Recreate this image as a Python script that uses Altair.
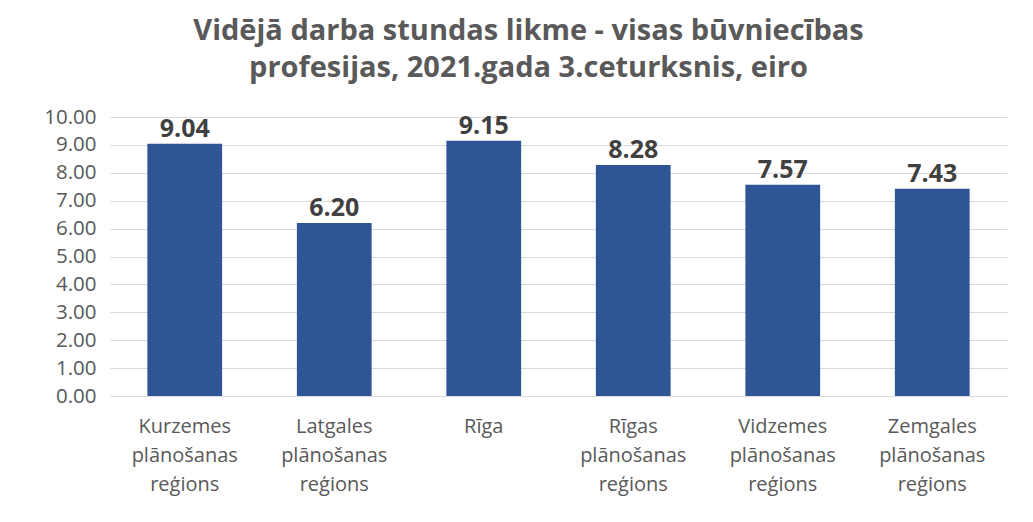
import altair as alt
import pandas as pd

categories = [
    "Kurzemes|plānošanas|reģions",
    "Latgales|plānošanas|reģions",
    "Rīga",
    "Rīgas|plānošanas|reģions",
    "Vidzemes|plānošanas|reģions",
    "Zemgales|plānošanas|reģions",
]
values = [9.04, 6.20, 9.15, 8.28, 7.57, 7.43]
y_ticks = [0, 1, 2, 3, 4, 5, 6, 7, 8, 9, 10]

df = pd.DataFrame({"region": categories, "value": values})

GREY = "#595959"
x = alt.X(
    "region:N",
    sort=None,
    title=None,
    scale=alt.Scale(paddingInner=0.5, paddingOuter=0.25),
    axis=alt.Axis(
        labelAngle=0,
        labelExpr="split(datum.value, '|')",
        labelFont="Open Sans",
        labelFontSize=20,
        labelLineHeight=29,
        labelColor=GREY,
        labelPadding=20,
        labelBaseline="top",
        domain=False,
        ticks=False,
    ),
)
y = alt.Y(
    "value:Q",
    title=None,
    scale=alt.Scale(domain=[0, 10], nice=False),
    axis=alt.Axis(
        values=y_ticks,
        format=".2f",
        labelFont="Open Sans",
        labelFontSize=20.5,
        labelColor=GREY,
        labelPadding=14,
        domain=False,
        ticks=False,
        grid=True,
        gridColor="#d9d9d9",
        gridWidth=1.2,
    ),
)

bars = alt.Chart(df).mark_bar(color="#2F5597").encode(x=x, y=y)
labels = alt.Chart(df).mark_text(
    font="Open Sans",
    fontWeight="bold",
    fontSize=25,
    color="#404040",
    baseline="bottom",
    dy=-2,
).encode(x=x, y=y, text=alt.Text("value:Q", format=".2f"))

chart = (
    alt.layer(bars, labels)
    .properties(
        width=897,
        height=279,
        autosize=alt.AutoSizeParams(type="none"),
        padding={"left": 102, "top": 109, "right": 18, "bottom": 118},
        title=alt.TitleParams(
            text=[
                "Vidējā darba stundas likme - visas būvniecības",
                "profesijas, 2021.gada 3.ceturksnis, eiro",
            ],
            font="Open Sans",
            fontSize=29,
            fontWeight="bold",
            color=GREY,
            lineHeight=37,
            anchor="middle",
            dx=-30,
            offset=24,
        ),
        background="white",
    )
    .configure_view(stroke=None)
)

chart.save("out.html", embed_options={"renderer": "svg", "actions": False})
